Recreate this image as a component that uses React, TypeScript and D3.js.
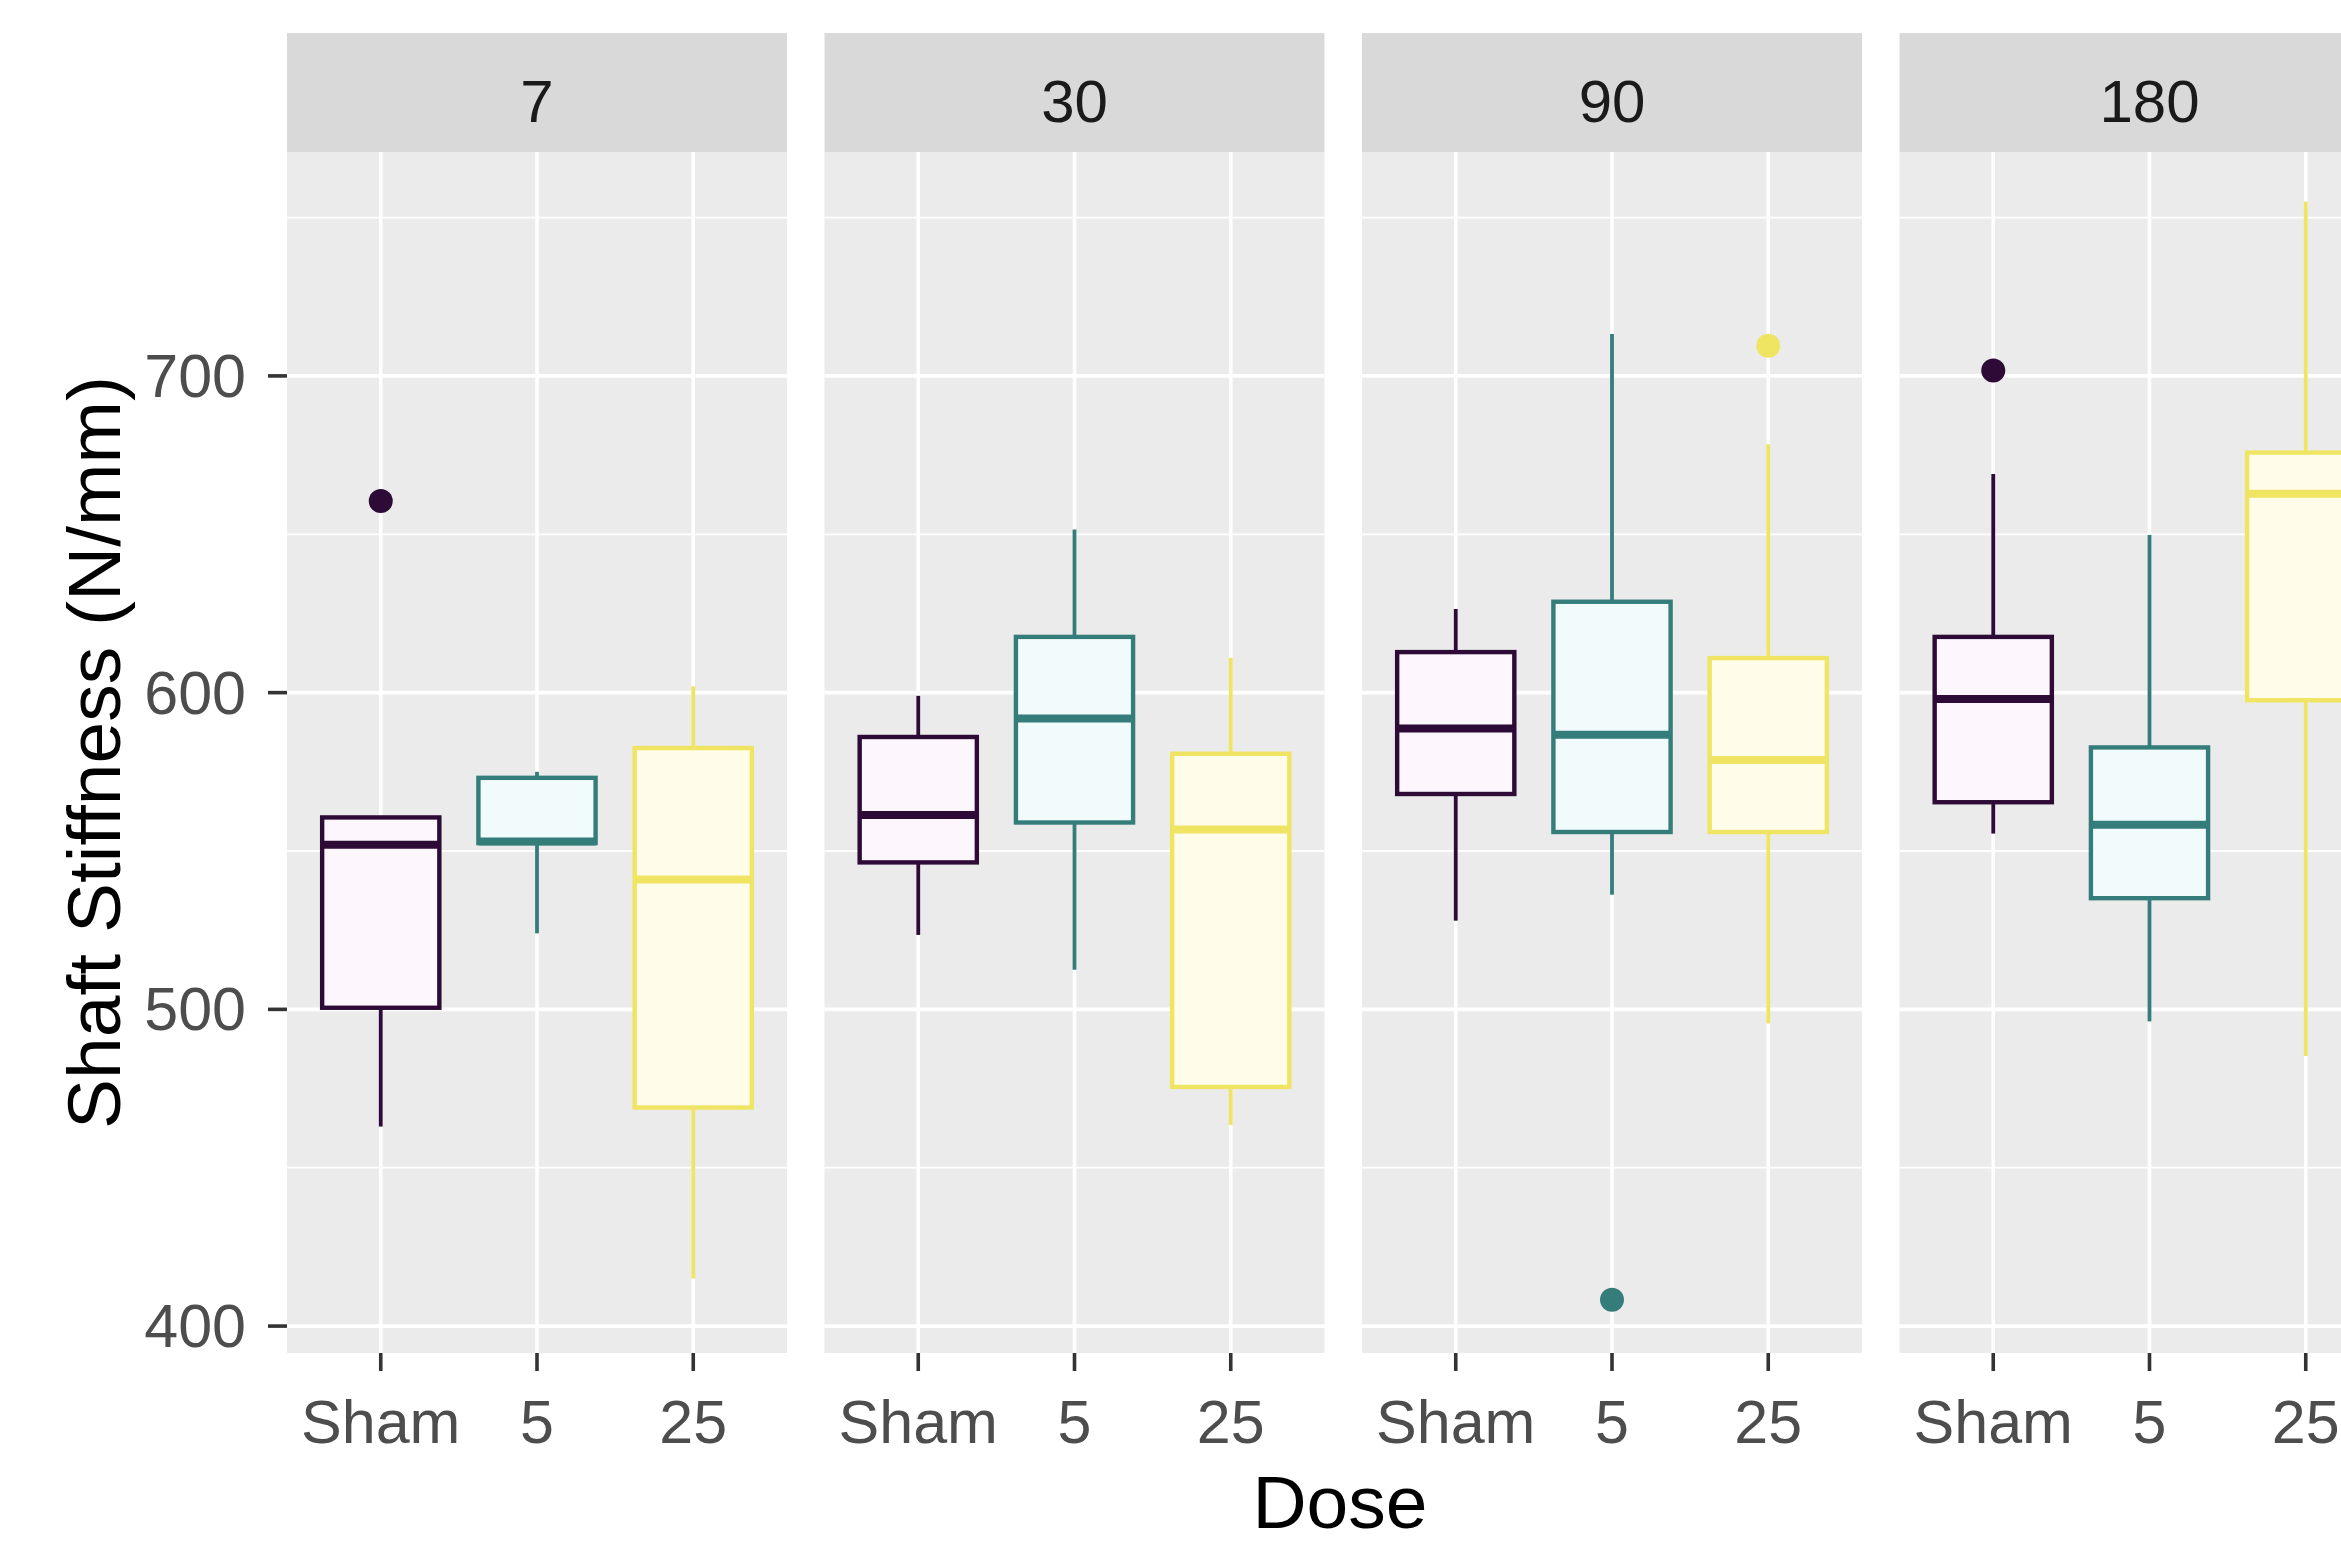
import React from "react";
import * as d3 from "d3";

// ---- data ----
const times = ["7", "30", "90", "180"];
const doses = ["Sham", "5", "25"];
const lowerWhisker = [
  [463, 524, 415],
  [523.5, 512.5, 463.5],
  [528, 536.2, 495.5],
  [555.5, 496.2, 485.3],
];
const q1 = [
  [500.5, 552.5, 469],
  [546.4, 559, 475.5],
  [568, 556, 556],
  [565.4, 535.1, 597.6],
];
const medians = [
  [552, 553, 541],
  [561.4, 591.8, 556.8],
  [588.7, 586.7, 578.7],
  [598, 558.3, 662.8],
];
const q3 = [
  [560.6, 573.1, 582.5],
  [586, 617.6, 580.7],
  [612.8, 628.7, 610.9],
  [617.6, 582.7, 675.8],
];
const upperWhisker = [
  [560.6, 575, 602],
  [599, 651.5, 611],
  [626.4, 713.2, 678.4],
  [669, 649.8, 755],
];
const outlierTime = ["7", "90", "90", "180"];
const outlierDose = ["Sham", "5", "25", "Sham"];
const outlierValue = [660.5, 408.3, 709.5, 701.7];
const yTicks = [400, 500, 600, 700];
const yMinor = [450, 550, 650, 750];
const doseColors = ["#2D0B36", "#357D7B", "#F0E463"];
const doseFills = ["#FDF6FD", "#F2FBFC", "#FFFDEA"];

const W = 2341;
const H = 1543;
const FONT = "'Liberation Sans', Arial, sans-serif";

export default function App() {
  const panelLeft0 = 287;
  const panelW = 500;
  const panelGap = 37.5;
  const stripTop = 33;
  const panelTop = 152;
  const panelBottom = 1353;
  const n = times.length;
  const totalW = panelW * n + panelGap * (n - 1);

  const y = d3.scaleLinear().domain([391.5, 770.7]).range([panelBottom, panelTop]);
  const xPanel = d3
    .scaleBand()
    .domain(times)
    .range([panelLeft0, panelLeft0 + totalW])
    .paddingInner(panelGap / (panelW + panelGap))
    .paddingOuter(0);
  const bw = xPanel.bandwidth();
  const xIn = d3.scaleLinear().domain([0.4, 3.6]).range([0, bw]);
  const unit = xIn(1) - xIn(0);
  const boxHalf = (unit * 0.75) / 2;

  const panels = times.map((t, ti) => {
    const px = xPanel(t) as number;
    const cx = (di: number) => px + xIn(di + 1);
    return (
      <g key={t}>
        <rect x={px} y={stripTop} width={bw} height={panelTop - stripTop} fill="#D9D9D9" />
        <text x={px + bw / 2} y={122} fontSize={60} fill="#1A1A1A" textAnchor="middle" fontFamily={FONT}>
          {t}
        </text>
        <rect x={px} y={panelTop} width={bw} height={panelBottom - panelTop} fill="#EBEBEB" />
        {yMinor.map((v) => (
          <line key={"mi" + v} x1={px} x2={px + bw} y1={y(v)} y2={y(v)} stroke="#FFFFFF" strokeWidth={1.8} />
        ))}
        {yTicks.map((v) => (
          <line key={"ma" + v} x1={px} x2={px + bw} y1={y(v)} y2={y(v)} stroke="#FFFFFF" strokeWidth={3.6} />
        ))}
        {doses.map((d, di) => (
          <line key={"vx" + d} x1={cx(di)} x2={cx(di)} y1={panelTop} y2={panelBottom} stroke="#FFFFFF" strokeWidth={3.6} />
        ))}
        {doses.map((d, di) => {
          const c = doseColors[di];
          const x = cx(di);
          return (
            <g key={"box" + d}>
              <line x1={x} x2={x} y1={y(upperWhisker[ti][di])} y2={y(q3[ti][di])} stroke={c} strokeWidth={3.8} />
              <line x1={x} x2={x} y1={y(q1[ti][di])} y2={y(lowerWhisker[ti][di])} stroke={c} strokeWidth={3.8} />
              <rect
                x={x - boxHalf}
                y={y(q3[ti][di])}
                width={boxHalf * 2}
                height={y(q1[ti][di]) - y(q3[ti][di])}
                fill={doseFills[di]}
                stroke={c}
                strokeWidth={4.4}
              />
              <line
                x1={x - boxHalf}
                x2={x + boxHalf}
                y1={y(medians[ti][di])}
                y2={y(medians[ti][di])}
                stroke={c}
                strokeWidth={8}
              />
            </g>
          );
        })}
        {outlierValue.map((v, oi) =>
          outlierTime[oi] === t ? (
            <circle
              key={"o" + oi}
              cx={cx(doses.indexOf(outlierDose[oi]))}
              cy={y(v)}
              r={12}
              fill={doseColors[doses.indexOf(outlierDose[oi])]}
            />
          ) : null
        )}
        {doses.map((d, di) => (
          <g key={"xt" + d}>
            <line x1={cx(di)} x2={cx(di)} y1={panelBottom} y2={panelBottom + 18} stroke="#333333" strokeWidth={3.6} />
            <text x={cx(di)} y={1443} fontSize={61} fill="#4D4D4D" textAnchor="middle" fontFamily={FONT}>
              {d}
            </text>
          </g>
        ))}
      </g>
    );
  });

  return (
    <svg
      width={W}
      height={H}
      viewBox={`0 0 ${W} ${H}`}
      style={{ position: "absolute", left: 0, top: 0, background: "#FFFFFF" }}
    >
      <rect x={0} y={0} width={W} height={H} fill="#FFFFFF" />
      {panels}
      {yTicks.map((v) => (
        <g key={"yt" + v}>
          <line x1={268} x2={287} y1={y(v)} y2={y(v)} stroke="#333333" strokeWidth={3.6} />
          <text x={246} y={y(v) + 21} fontSize={61} fill="#4D4D4D" textAnchor="end" fontFamily={FONT}>
            {v}
          </text>
        </g>
      ))}
      <text
        transform={`translate(120, ${(panelTop + panelBottom) / 2}) rotate(-90)`}
        fontSize={75}
        fill="#000000"
        textAnchor="middle"
        fontFamily={FONT}
      >
        Shaft Stiffness (N/mm)
      </text>
      <text x={1340} y={1528} fontSize={75} fill="#000000" textAnchor="middle" fontFamily={FONT}>
        Dose
      </text>
    </svg>
  );
}
